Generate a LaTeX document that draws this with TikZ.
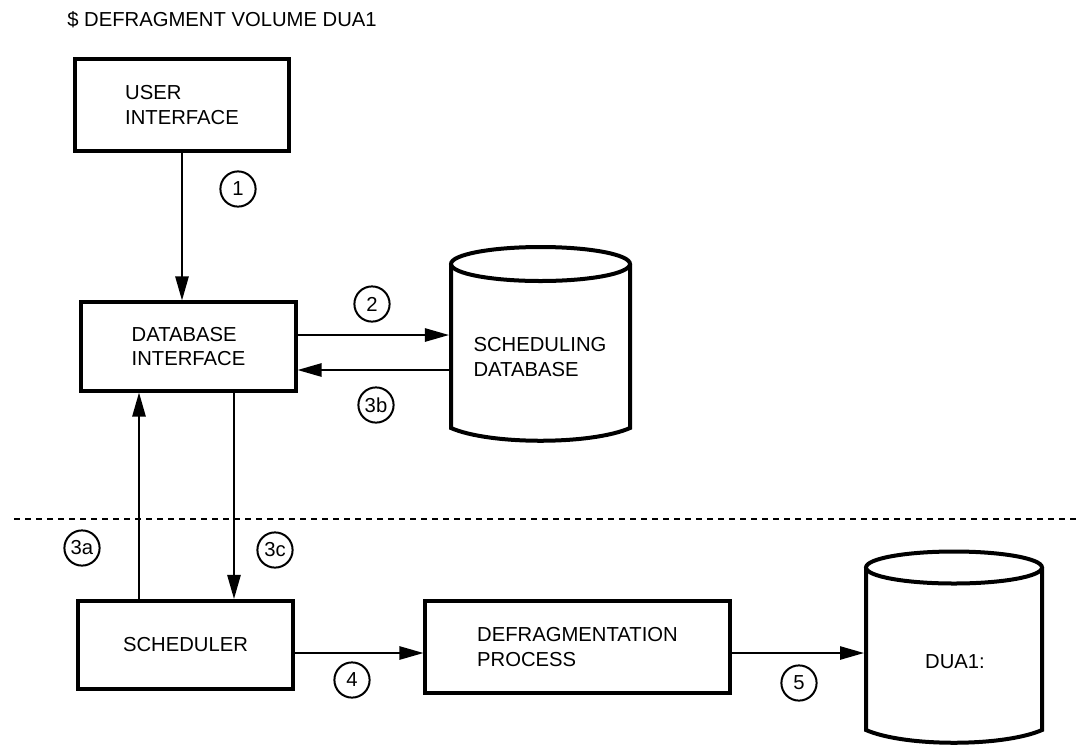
\documentclass[tikz,border=0pt]{standalone}
\usepackage{fontspec}
\setmainfont{Liberation Sans}
\usetikzlibrary{arrows.meta}
\begin{document}
\begin{tikzpicture}[x=0.025cm,y=-0.025cm,
  every node/.style={font=\fontsize{14.4}{17.1}\selectfont},
  box/.style={draw,line width=0.1cm,align=left,minimum width=5.35cm,minimum height=2.2cm},
  num/.style={draw,circle,line width=0.05cm,inner sep=0pt,minimum size=0.88cm},
  flow/.style={line width=0.05cm,-{Triangle[length=0.6cm,width=0.33cm]}},
  disk/.style={line width=0.1cm}]

\useasboundingbox (0,0) rectangle (1080,746);

\node[anchor=base west,inner sep=0pt] (T) at (67,26) {\$ DEFRAGMENT VOLUME DUA1};

\node[box,minimum height=2.3cm] (UI) at (182,105) {USER\\INTERFACE};
\node[box] (DBI) at (188.5,346.5) {DATABASE\\INTERFACE};
\node[box] (SCH) at (185.5,645) {SCHEDULER};
\node[box,minimum width=7.6cm,minimum height=2.3cm] (DEF) at (577.5,647) {DEFRAGMENTATION\\PROCESS};

%scheduling database
\draw[disk] (451,264) -- (451,428) .. controls (490,445) and (591,445) .. (630,428) -- (630,264);
\draw[disk] (540.5,264) ellipse [x radius=89.5,y radius=17];
\node[align=left] (SDB) at (540,357) {SCHEDULING\\DATABASE};
\coordinate (SDBa) at (449,335);
\coordinate (SDBb) at (449,370);

%DUA1
\draw[disk] (866,567.5) -- (866,730) .. controls (905,747) and (1003,747) .. (1042,730) -- (1042,567.5);
\draw[disk] (954,567.5) ellipse [x radius=88,y radius=16];
\node (DUA) at (955,662) {DUA1:};
\coordinate (DUAw) at (864,653);

\coordinate (A3) at (139,0);
\coordinate (C3) at (234,0);
\coordinate (L4) at (0,653);

\draw[flow] (UI.south) -- (UI.south |- DBI.north);
\draw[flow] (DBI.east |- SDBa) -- (SDBa);
\draw[flow] (SDBb) -- (DBI.east |- SDBb);
\draw[flow] (SCH.north -| A3) -- (DBI.south -| A3);
\draw[flow] (DBI.south -| C3) -- (SCH.north -| C3);
\draw[flow] (SCH.east |- L4) -- (DEF.west |- L4);
\draw[flow] (DEF.east |- L4) -- (DUAw);

\node[num] (N1) at (238,189) {1};
\node[num] (N2) at (372,304) {2};
\node[num] (N3b) at (376,405) {3b};
\node[num] (N3a) at (82,548) {3a};
\node[num] (N3c) at (275,550) {3c};
\node[num] (N4) at (352,680) {4};
\node[num] (N5) at (799,683) {5};

\draw[line width=0.05cm,dash pattern=on 0.15cm off 0.125cm] (14,519) -- (1076,519);
\end{tikzpicture}
\end{document}
